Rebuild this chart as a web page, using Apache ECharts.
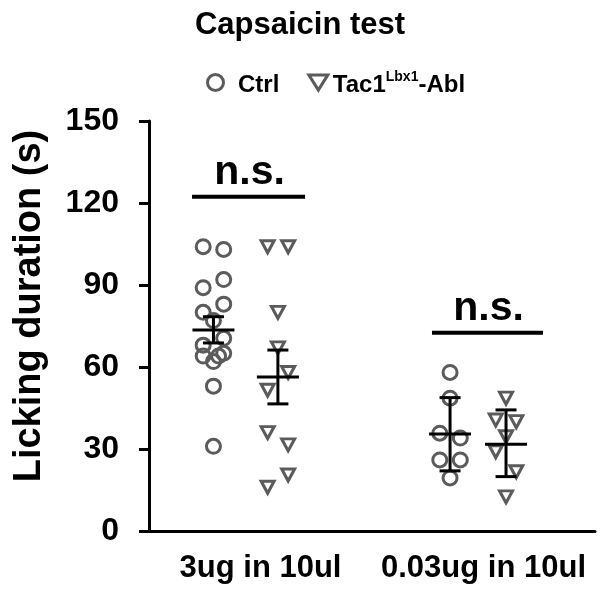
<!DOCTYPE html>
<html><head><meta charset="utf-8">
<script src="https://cdn.jsdelivr.net/npm/echarts@6/dist/echarts.min.js"></script>
<style>html,body{margin:0;padding:0;background:#fff}#c{width:600px;height:591px}</style>
</head><body><div id="c"></div>
<script>
// ---------- data ----------
const categories = ['3ug in 10ul', '0.03ug in 10ul'];
const yTickLabels = ['0', '30', '60', '90', '120', '150'];
const seriesNames = ['Ctrl', 'Tac1-Abl'];

// individual animals (s) and their jitter lane within the column
const ctrlDose1 = [104, 103, 92, 89, 83, 80, 77, 70.5, 68, 65, 64, 64, 62, 53, 31];
const ctrlDose1Lane = [-1, 1, 1, -1, 1, -1, 0, 1, -1, 1, -1, 0.5, 0, 0, 0];
const ablDose1 = [104, 104, 80, 67, 58, 51.5, 36, 31.5, 20.5, 16];
const ablDose1Lane = [-1, 1, 0, 0, 1, -1, -1, 1, 1, -1];
const ctrlDose2 = [58, 48.6, 35.8, 34, 26, 26, 19.4];
const ctrlDose2Lane = [0, 0, -1, 1, -1, 1, 0];
const ablDose2 = [48.6, 40.6, 40, 34.5, 29, 21.7, 12.5];
const ablDose2Lane = [0, -1, 1, 0, -1, 1, 0];

// mean and error bar ends
const ctrlMean = [73.5, 35.5];
const ctrlLow = [68.8, 22];
const ctrlHigh = [78.4, 48.8];
const ablMean = [56.3, 31.7];
const ablLow = [46.5, 19.9];
const ablHigh = [66.2, 44.3];

// significance annotations
const sigLabels = ['n.s.', 'n.s.'];
const sigHeights = [122.3, 72.5];

// ---------- layout (axis units of a hidden 0..2 value axis) ----------
const ctrlShift = [-0.211, -0.150];
const ablShift = [0.078, 0.101];
const laneStep = 0.046;
const sigSpan = [[0.193, 0.700], [1.269, 1.767]];

const GRAY = '#5b5b5b';
const FONT = '"Liberation Sans", Arial, sans-serif';
const TRI = 'path://M0,0L20,0L10,16Z';

function pts(vals, lanes, cat, shift) {
  return vals.map((v, i) => [cat + 0.5 + shift[cat] + lanes[i] * laneStep, v]);
}
const ctrlPts = pts(ctrlDose1, ctrlDose1Lane, 0, ctrlShift).concat(pts(ctrlDose2, ctrlDose2Lane, 1, ctrlShift));
const ablPts = pts(ablDose1, ablDose1Lane, 0, ablShift).concat(pts(ablDose2, ablDose2Lane, 1, ablShift));

const errData = [];
categories.forEach((c, i) => {
  errData.push([i + 0.5 + ctrlShift[i], ctrlMean[i], ctrlLow[i], ctrlHigh[i]]);
  errData.push([i + 0.5 + ablShift[i], ablMean[i], ablLow[i], ablHigh[i]]);
});
const sigData = sigHeights.map((h, i) => [sigSpan[i][0], sigSpan[i][1], h]);

function errRender(params, api) {
  const x = api.value(0);
  const pm = api.coord([x, api.value(1)]);
  const pl = api.coord([x, api.value(2)]);
  const ph = api.coord([x, api.value(3)]);
  const st = { stroke: '#000', lineWidth: 3 };
  return { type: 'group', children: [
    { type: 'line', shape: { x1: pm[0], y1: ph[1], x2: pm[0], y2: pl[1] }, style: st },
    { type: 'line', shape: { x1: pm[0] - 10.5, y1: ph[1], x2: pm[0] + 10.5, y2: ph[1] }, style: st },
    { type: 'line', shape: { x1: pm[0] - 10.5, y1: pl[1], x2: pm[0] + 10.5, y2: pl[1] }, style: st },
    { type: 'line', shape: { x1: pm[0] - 21, y1: pm[1], x2: pm[0] + 21, y2: pm[1] }, style: st }
  ]};
}
function sigRender(params, api) {
  const a = api.coord([api.value(0), api.value(2)]);
  const b = api.coord([api.value(1), api.value(2)]);
  return { type: 'group', children: [
    { type: 'line', shape: { x1: a[0], y1: a[1], x2: b[0], y2: b[1] }, style: { stroke: '#000', lineWidth: 4 } },
    { type: 'text', x: (a[0] + b[0]) / 2 + 1, y: a[1] - 24,
      style: { text: sigLabels[params.dataIndex], font: 'bold 41px ' + FONT, fill: '#000', align: 'center', verticalAlign: 'middle' } }
  ]};
}

const chart = echarts.init(document.getElementById('c'), null, { renderer: 'canvas' });
chart.setOption({
  animation: false,
  backgroundColor: '#fff',
  title: {
    text: 'Capsaicin test', left: 'center', top: 5,
    textStyle: { fontSize: 31, fontWeight: 'bold', color: '#000', fontFamily: FONT }
  },
  legend: {
    left: 206, top: 65, padding: 0, itemWidth: 19, itemHeight: 16, itemGap: 28,
    textStyle: {
      color: '#000', fontFamily: FONT, fontWeight: 'bold', fontSize: 24,
      rich: {
        b: { fontSize: 24, fontWeight: 'bold', fontFamily: FONT, color: '#000', lineHeight: 24, padding: [8, 0, 3, 0] },
        c: { fontSize: 24, fontWeight: 'bold', fontFamily: FONT, color: '#000', lineHeight: 24, padding: [8, 0, 3, 8] },
        s: { fontSize: 14, fontWeight: 'bold', fontFamily: FONT, color: '#000', lineHeight: 14, padding: [0, 0, 11, 0] }
      }
    },
    formatter: n => n === 'Ctrl' ? '{c|Ctrl}' : '{b|Tac1}{s|Lbx1}{b|-Abl}',
    data: [
      { name: 'Ctrl', icon: 'circle', itemStyle: { color: 'rgba(0,0,0,0)', borderColor: GRAY, borderWidth: 3 } },
      { name: 'Tac1-Abl', icon: TRI, itemStyle: { color: 'rgba(0,0,0,0)', borderColor: GRAY, borderWidth: 3 } }
    ]
  },
  grid: { left: 149, right: 5, top: 121, bottom: 60 },
  xAxis: [
    { type: 'category', data: categories,
      axisLine: { lineStyle: { color: '#000', width: 3 } }, axisTick: { show: false },
      axisLabel: { color: '#000', fontSize: 31, fontWeight: 'bold', fontFamily: FONT, margin: 22, interval: 0 } },
    { type: 'value', min: 0, max: 2, show: false }
  ],
  yAxis: {
    type: 'value', min: 0, max: 150, interval: 30,
    name: 'Licking duration (s)', nameLocation: 'middle', nameGap: 100,
    nameTextStyle: { fontSize: 38, fontWeight: 'bold', color: '#000', fontFamily: FONT, padding: [0, 0, 0, 40] },
    axisLine: { show: true, lineStyle: { color: '#000', width: 3 } },
    axisTick: { show: true, length: 10, lineStyle: { color: '#000', width: 3 } },
    splitLine: { show: false },
    axisLabel: { color: '#000', fontSize: 32, fontWeight: 'bold', fontFamily: FONT, margin: 30,
      formatter: v => yTickLabels[Math.round(v / 30)] }
  },
  series: [
    { name: seriesNames[0], type: 'scatter', xAxisIndex: 1, data: ctrlPts, symbol: 'circle', symbolSize: 14,
      itemStyle: { color: 'rgba(0,0,0,0)', borderColor: GRAY, borderWidth: 3, opacity: 1 }, z: 2 },
    { name: seriesNames[1], type: 'scatter', xAxisIndex: 1, data: ablPts, symbol: TRI, symbolSize: [13, 12], symbolKeepAspect: false,
      itemStyle: { color: 'rgba(0,0,0,0)', borderColor: GRAY, borderWidth: 3, opacity: 1 }, z: 2 },
    { type: 'custom', xAxisIndex: 1, data: errData, renderItem: errRender, z: 5, encode: { x: 0, y: 1 } },
    { type: 'custom', xAxisIndex: 1, data: sigData, renderItem: sigRender, z: 5, encode: { x: [0, 1], y: 2 } }
  ]
});
</script>
</body></html>
